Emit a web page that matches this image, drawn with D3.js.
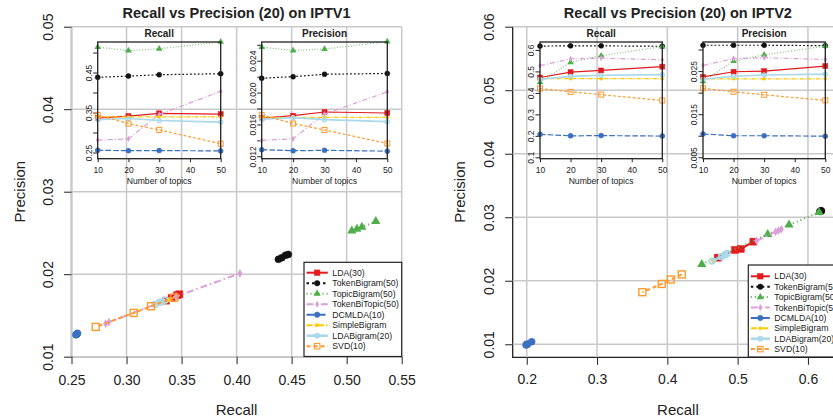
<!DOCTYPE html>
<html>
<head>
<meta charset="utf-8">
<script src="https://cdn.jsdelivr.net/npm/d3@7"></script>
<style>
  body { margin: 0; background: #fff; }
  svg { font-family: "Liberation Sans", Arial, sans-serif; display: block; }
</style>
</head>
<body>
<svg id="chart"></svg>
<script>
// Methods in legend order and number of topics used in the insets
const methods = ["LDA(30)", "TokenBigram(50)", "TopicBigram(50)", "TokenBiTopic(50)",
                 "DCMLDA(10)", "SimpleBigram", "LDABigram(20)", "SVD(10)"];
const topics = [10, 20, 30, 50];

// IPTV1 - recall / precision at 20, one row per method, one value per topic count
const iptv1Recall = [
  [0.336, 0.341, 0.348, 0.346],
  [0.438, 0.441, 0.4445, 0.447],
  [0.5138, 0.5047, 0.5093, 0.5265],
  [0.281, 0.284, 0.345, 0.403],
  [0.2555, 0.2545, 0.2548, 0.2540],
  [0.339, 0.339, 0.339, 0.339],
  [0.332, 0.335, 0.330, 0.326],
  [0.3435, 0.3223, 0.3065, 0.272]
];
const iptv1Precision = [
  [0.0168, 0.0171, 0.01756, 0.01744],
  [0.0218, 0.0220, 0.0223, 0.0224],
  [0.02572, 0.02527, 0.02547, 0.0264],
  [0.0140, 0.0142, 0.0173, 0.0201],
  [0.01283, 0.01270, 0.01275, 0.01265],
  [0.0169, 0.0169, 0.0169, 0.0169],
  [0.01665, 0.01685, 0.0166, 0.01635],
  [0.01717, 0.01612, 0.01531, 0.01361]
];

// IPTV2
const iptv2Recall = [
  [0.4717, 0.4963, 0.5044, 0.5224],
  [0.618, 0.619, 0.619, 0.617],
  [0.449, 0.5428, 0.5731, 0.6158],
  [0.527, 0.558, 0.562, 0.554],
  [0.207, 0.200, 0.201, 0.199],
  [0.466, 0.466, 0.466, 0.466],
  [0.4635, 0.477, 0.482, 0.485],
  [0.4205, 0.4048, 0.392, 0.3645]
];
const iptv2Precision = [
  [0.02364, 0.02485, 0.02501, 0.02616],
  [0.0310, 0.0310, 0.0310, 0.0309],
  [0.0226, 0.02732, 0.02879, 0.03079],
  [0.0263, 0.0279, 0.0281, 0.0277],
  [0.0104, 0.0100, 0.0100, 0.0099],
  [0.0232, 0.0232, 0.0232, 0.0232],
  [0.0231, 0.0238, 0.0241, 0.0243],
  [0.0210, 0.0202, 0.0195, 0.0182]
];

// Tick values
const leftXTicks = [0.25, 0.30, 0.35, 0.40, 0.45, 0.50, 0.55];
const leftYTicks = [0.01, 0.02, 0.03, 0.04, 0.05];
const rightXTicks = [0.2, 0.3, 0.4, 0.5, 0.6];
const rightYTicks = [0.01, 0.02, 0.03, 0.04, 0.05, 0.06];
const insetXTicks = [10, 20, 30, 40, 50];
const iptv1RecallTicks = [0.25, 0.30, 0.35, 0.40, 0.45, 0.50];
const iptv1RecallLabels = [0.25, 0.35, 0.45];
const iptv1PrecisionTicks = [0.012, 0.014, 0.016, 0.018, 0.020, 0.022, 0.024, 0.026];
const iptv1PrecisionLabels = [0.012, 0.016, 0.020, 0.024];
const iptv2RecallTicks = [0.1, 0.2, 0.3, 0.4, 0.5, 0.6];
const iptv2RecallLabels = [0.1, 0.2, 0.3, 0.4, 0.5, 0.6];
const iptv2PrecisionTicks = [0.005, 0.010, 0.015, 0.020, 0.025, 0.030];
const iptv2PrecisionLabels = [0.005, 0.015, 0.025];

// Styles (one per method)
const colors = ["#e41a1c", "#111111", "#4daf4a", "#dc9fd8", "#3b6fbf", "#ffc800", "#a9d9ea", "#ff9a2e"];
const dashes = [null, "2.5,3", "1,3", "7,3,1.5,3", "8,3", "6,2,1.5,2", null, "4,3"];
const shapes = ["square", "circle", "triangle", "diamond", "circle", "dot", "ocircle", "osquare"];

const width = 833, height = 420;
const svg = d3.select("#chart").attr("width", width).attr("height", height);
const gridColor = "#c9c9c9";
const textColor = "#222";

function drawMarker(g, shape, cx, cy, s, color) {
  if (shape === "square" || shape === "osquare") {
    g.append("rect")
      .attr("x", cx - s / 2).attr("y", cy - s / 2).attr("width", s).attr("height", s)
      .attr("fill", shape === "square" ? color : "none")
      .attr("stroke", color).attr("stroke-width", shape === "square" ? 0.5 : Math.max(1, s / 5));
  } else if (shape === "circle" || shape === "dot" || shape === "ocircle") {
    const r = shape === "dot" ? s * 0.3 : s / 2;
    g.append("circle").attr("cx", cx).attr("cy", cy).attr("r", shape === "ocircle" ? r * 0.8 : r)
      .attr("fill", shape === "ocircle" ? "none" : color)
      .attr("stroke", color).attr("stroke-width", shape === "ocircle" ? Math.max(1, s / 4) : 0.5);
  } else if (shape === "triangle") {
    g.append("path")
      .attr("d", d3.symbol(d3.symbolTriangle, s * s * 0.75)())
      .attr("transform", `translate(${cx},${cy})`)
      .attr("fill", color);
  } else if (shape === "diamond") {
    g.append("path")
      .attr("d", d3.symbol(d3.symbolDiamond, s * s * 0.45)())
      .attr("transform", `translate(${cx},${cy})`)
      .attr("fill", color);
  }
}

function styleAxis(g, size) {
  g.select(".domain").remove();
  g.attr("font-family", null).attr("font-size", size).attr("color", textColor);
  g.selectAll(".tick line").attr("stroke", textColor);
}

function rotateYLabels(g, offset) {
  g.selectAll(".tick text")
    .attr("x", 0).attr("dy", 0)
    .attr("text-anchor", "middle")
    .attr("transform", `translate(${-offset},0) rotate(-90)`);
}

// Main recall-precision plot
function drawMain(p) {
  const g = svg.append("g");
  const x = d3.scaleLinear().domain(p.xDomain).range([p.left, p.right]);
  const y = d3.scaleLinear().domain(p.yDomain).range([p.bottom, p.top]);

  // L-shaped frame
  g.append("path")
    .attr("d", `M${p.left},${p.top}V${p.bottom}H${p.right}`)
    .attr("fill", "none").attr("stroke", "#222").attr("stroke-width", 1.3);

  // grid
  g.selectAll(".gx").data(p.xTicks).enter().append("line")
    .attr("x1", d => x(d)).attr("x2", d => x(d))
    .attr("y1", p.top).attr("y2", p.bottom)
    .attr("stroke", gridColor).attr("stroke-width", 1.5);
  g.selectAll(".gy").data(p.yTicks).enter().append("line")
    .attr("x1", p.left).attr("x2", p.right)
    .attr("y1", d => y(d)).attr("y2", d => y(d))
    .attr("stroke", gridColor).attr("stroke-width", 1.5);

  // axes
  const xAxis = g.append("g")
    .attr("transform", `translate(0,${p.bottom})`)
    .call(d3.axisBottom(x).tickValues(p.xTicks).tickFormat(d3.format(p.xFormat))
      .tickSize(7.5).tickSizeOuter(0).tickPadding(p.xPad));
  styleAxis(xAxis, 14);

  const yAxis = g.append("g")
    .attr("transform", `translate(${p.left},0)`)
    .call(d3.axisLeft(y).tickValues(p.yTicks).tickFormat(d3.format(".2f"))
      .tickSize(7.5).tickSizeOuter(0));
  styleAxis(yAxis, 14);
  rotateYLabels(yAxis, 18.5);

  // series
  const line = d3.line().x(d => x(d[0])).y(d => y(d[1]));
  methods.forEach((m, i) => {
    const pts = topics.map((t, k) => [p.recall[i][k], p.precision[i][k]]);
    g.append("path")
      .attr("d", line(pts))
      .attr("fill", "none")
      .attr("stroke", colors[i])
      .attr("stroke-width", i === 6 ? 2.6 : 2)
      .attr("stroke-dasharray", dashes[i]);
    const mg = g.append("g");
    pts.forEach(d => drawMarker(mg, shapes[i], x(d[0]), y(d[1]), 7, colors[i]));
  });

  // titles
  g.append("text")
    .attr("x", (p.left + p.right) / 2).attr("y", 18)
    .attr("text-anchor", "middle").attr("font-weight", "bold").attr("font-size", 14.5)
    .attr("fill", textColor).text(p.title);
  g.append("text")
    .attr("x", (p.left + p.right) / 2).attr("y", 415)
    .attr("text-anchor", "middle").attr("font-size", 15)
    .attr("fill", textColor).text("Recall");
  g.append("text")
    .attr("transform", `translate(${p.ylabX},${(p.top + p.bottom) / 2}) rotate(-90)`)
    .attr("text-anchor", "middle").attr("font-size", 15)
    .attr("fill", textColor).text("Precision");

  return g;
}

// Small inset panel: metric against number of topics
function drawInset(q) {
  const g = svg.append("g");
  const top = 42, bottom = 158.7;
  const x = d3.scaleLinear().domain([10, 50]).range([q.left, q.right]);
  const y = d3.scaleLinear().domain(q.yDomain).range([bottom, top]);

  const fmt = d3.format(q.fmt);
  const yAxis = g.append("g")
    .attr("transform", `translate(${q.left},0)`)
    .call(d3.axisLeft(y).tickValues(q.ticks)
      .tickFormat(d => q.labels.some(l => Math.abs(l - d) < 1e-9) ? fmt(d) : "")
      .tickSize(4.5).tickSizeOuter(0));
  styleAxis(yAxis, 8.5);
  rotateYLabels(yAxis, 6);

  const xAxis = g.append("g")
    .attr("transform", `translate(0,${bottom})`)
    .call(d3.axisBottom(x).tickValues(insetXTicks).tickSize(3.5).tickSizeOuter(0).tickPadding(4.5));
  styleAxis(xAxis, 8.5);

  const line = d3.line().x((d, k) => x(topics[k])).y(d => y(d));
  methods.forEach((m, i) => {
    g.append("path")
      .attr("d", line(q.values[i]))
      .attr("fill", "none")
      .attr("stroke", colors[i])
      .attr("stroke-width", i === 6 ? 1.6 : 1.2)
      .attr("stroke-dasharray", dashes[i] ? dashes[i].split(",").map(v => v * 0.7).join(",") : null);
    const mg = g.append("g");
    q.values[i].forEach((v, k) => drawMarker(mg, shapes[i], x(topics[k]), y(v), 5, colors[i]));
  });

  g.append("rect")
    .attr("x", q.left).attr("y", top)
    .attr("width", q.right - q.left).attr("height", bottom - top)
    .attr("fill", "none").attr("stroke", "#222").attr("stroke-width", 1.3);

  g.append("text")
    .attr("x", (q.left + q.right) / 2).attr("y", 37.3)
    .attr("text-anchor", "middle").attr("font-weight", "bold").attr("font-size", 10)
    .attr("fill", textColor).text(q.title);
  g.append("text")
    .attr("x", (q.left + q.right) / 2).attr("y", 183.5)
    .attr("text-anchor", "middle").attr("font-size", 8.6)
    .attr("fill", textColor).text("Number of topics");
}

function drawLegend(l) {
  const g = svg.append("g");
  g.append("rect")
    .attr("x", l.left).attr("y", l.top)
    .attr("width", l.right - l.left).attr("height", l.bottom - l.top)
    .attr("fill", "#fff").attr("stroke", "#222").attr("stroke-width", 1.2);
  methods.forEach((m, i) => {
    const cy = l.first + i * l.step;
    g.append("line")
      .attr("x1", l.left + 2.5).attr("x2", l.textX - 4.5)
      .attr("y1", cy).attr("y2", cy)
      .attr("stroke", colors[i]).attr("stroke-width", i === 6 ? 2.6 : 2)
      .attr("stroke-dasharray", dashes[i]);
    drawMarker(g, shapes[i], (l.left + 2.5 + l.textX - 4.5) / 2, cy, 5.5, colors[i]);
    g.append("text")
      .attr("x", l.textX).attr("y", cy).attr("dy", "0.36em")
      .attr("font-size", 8.7).attr("fill", textColor).text(m);
  });
}

// IPTV1
drawMain({
  title: "Recall vs Precision (20) on IPTV1",
  left: 71.5, right: 401.7, top: 26.7, bottom: 356.7,
  xDomain: [0.25, 0.55], yDomain: [0.01, 0.05],
  xTicks: leftXTicks, yTicks: leftYTicks, xFormat: ".2f", xPad: 11,
  ylabX: 25, recall: iptv1Recall, precision: iptv1Precision
});
drawInset({ title: "Recall", left: 97.7, right: 220.7, yDomain: [0.2345, 0.5263],
  ticks: iptv1RecallTicks, labels: iptv1RecallLabels, fmt: ".2f", values: iptv1Recall });
drawInset({ title: "Precision", left: 261.7, right: 387.3, yDomain: [0.0117, 0.02635],
  ticks: iptv1PrecisionTicks, labels: iptv1PrecisionLabels, fmt: ".3f", values: iptv1Precision });
drawLegend({ left: 304, right: 401.7, top: 262.3, bottom: 356.5, first: 272.7, step: 10.5, textX: 332.3 });

// IPTV2
drawMain({
  title: "Recall vs Precision (20) on IPTV2",
  left: 512.7, right: 843.1, top: 26.7, bottom: 357.3,
  xDomain: [0.18, 0.65], yDomain: [0.00795, 0.06],
  xTicks: rightXTicks, yTicks: rightYTicks, xFormat: ".1f", xPad: 9,
  ylabX: 465, recall: iptv2Recall, precision: iptv2Precision
});
drawInset({ title: "Recall", left: 540, right: 662.3, yDomain: [0.0935, 0.637],
  ticks: iptv2RecallTicks, labels: iptv2RecallLabels, fmt: ".1f", values: iptv2Recall });
drawInset({ title: "Precision", left: 703, right: 825.3, yDomain: [0.00467, 0.03175],
  ticks: iptv2PrecisionTicks, labels: iptv2PrecisionLabels, fmt: ".3f", values: iptv2Precision });
drawLegend({ left: 748.3, right: 860, top: 265, bottom: 357, first: 276.3, step: 10.4, textX: 774.3 });
</script>
</body>
</html>
